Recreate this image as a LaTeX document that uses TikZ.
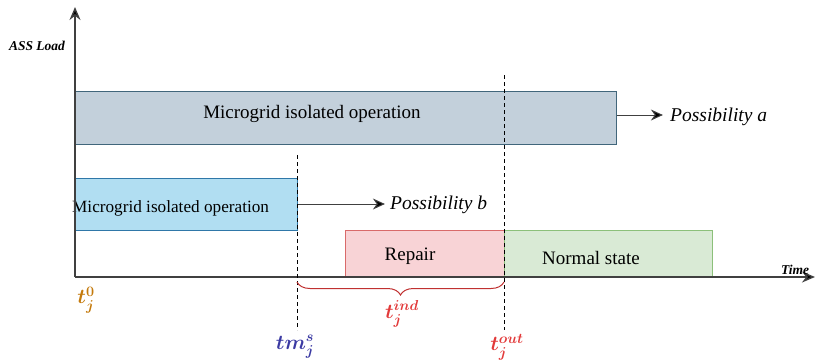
\documentclass[tikz,border=0pt]{standalone}
\usepackage{fontspec}
\setmainfont{Liberation Serif}
\usetikzlibrary{arrows.meta,decorations.pathreplacing}
\definecolor{boxAfill}{HTML}{C3D0DB}
\definecolor{boxAline}{HTML}{41667B}
\definecolor{boxBfill}{HTML}{B1DEF2}
\definecolor{boxBline}{HTML}{2F77A8}
\definecolor{repfill}{HTML}{F8D3D6}
\definecolor{repline}{HTML}{D96A6A}
\definecolor{normfill}{HTML}{D9EAD5}
\definecolor{normline}{HTML}{8CC07A}
\definecolor{axisgray}{HTML}{404040}
\definecolor{labOrange}{HTML}{C47A0C}
\definecolor{labBlue}{HTML}{3B3AA3}
\definecolor{labRed}{HTML}{E23A3A}
\tikzset{
  axisline/.style={draw=axisgray, line width=1.4pt, -{Stealth[length=13pt,width=11pt,fill=black]}},
  phase/.style={draw, line width=0.9pt},
  outarrow/.style={draw=axisgray, line width=1pt, -{Stealth[length=12pt,width=11pt,fill=black]}},
  marker/.style={draw=black, line width=0.8pt, dash pattern=on 4pt off 3pt},
  txt/.style={inner sep=0pt, font=\fontsize{19}{21}\selectfont},
  poss/.style={inner sep=0pt, anchor=west, font=\fontsize{19.5}{21}\selectfont\itshape},
  axlab/.style={inner sep=0pt, font=\fontsize{13.5}{15}\selectfont\bfseries\itshape},
  tlab/.style={inner sep=0pt, font=\fontsize{19.5}{21}\selectfont\boldmath},
}
\begin{document}
\begin{tikzpicture}[x=1pt,y=-1pt]
\useasboundingbox (0,0) rectangle (815,362);

% phase boxes
\node[phase, draw=boxAline, fill=boxAfill, minimum width=541pt, minimum height=53pt, anchor=north west, inner sep=0pt] (opa) at (75,91) {};
\node[phase, draw=boxBline, fill=boxBfill, minimum width=222pt, minimum height=52pt, anchor=north west, inner sep=0pt] (opb) at (75,178) {};
\node[phase, draw=repline, fill=repfill, minimum width=159pt, minimum height=47pt, anchor=north west, inner sep=0pt] (rep) at (345,230) {};
\node[phase, draw=normline, fill=normfill, minimum width=208pt, minimum height=47pt, anchor=north west, inner sep=0pt] (norm) at (504,230) {};

% texts inside the boxes
\node[txt] (opatxt) at (312,114) {Microgrid isolated operation};
\node[txt, anchor=west, font=\fontsize{17.2}{19}\selectfont] (opbtxt) at (72,208) {Microgrid isolated operation};
\node[txt] (reptxt) at (410,256) {Repair};
\node[txt] (normtxt) at (591,258) {Normal state};

% axes
\coordinate (origin) at (75,277);
\coordinate (ytop) at (75,7);
\coordinate (xend) at (815,277);
\draw[axisline] (origin) -- (ytop);
\draw[axisline] (origin) -- (xend);
\node[axlab] (ylab) at (37,46) {ASS Load};
\node[axlab] (xlab) at (795,270) {Time};

% time markers
\coordinate (ms top) at (297,155);
\coordinate (ms bot) at (297,330);
\coordinate (out top) at (504,75);
\coordinate (out bot) at (504,330);
\draw[marker] (ms top) -- (ms bot);
\draw[marker] (out top) -- (out bot);

% outcomes
\node[poss] (possa) at (670,117) {Possibility a};
\node[poss] (possb) at (390,205) {Possibility b};
\draw[outarrow] (opa.east |- 0,115) -- ++(46,0) coordinate (aend);
\draw[outarrow] (opb.east |- 0,204) -- ++(87,0) coordinate (bend);

% duration brace
\coordinate (br1) at (297,282);
\coordinate (br2) at (504,282);
\draw[draw=labRed!85!black, line width=1pt, decorate, decoration={brace, mirror, amplitude=13pt}] (br1) -- (br2);

% time labels
\node[tlab, text=labOrange] (t0) at (86,300) {$t_j^{0}$};
\node[tlab, text=labRed] (tind) at (402,314) {$t_j^{ind}$};
\node[tlab, text=labBlue] (tms) at (295,347) {$tm_j^{s}$};
\node[tlab, text=labRed] (tout) at (507,347) {$t_j^{out}$};
\end{tikzpicture}
\end{document}
